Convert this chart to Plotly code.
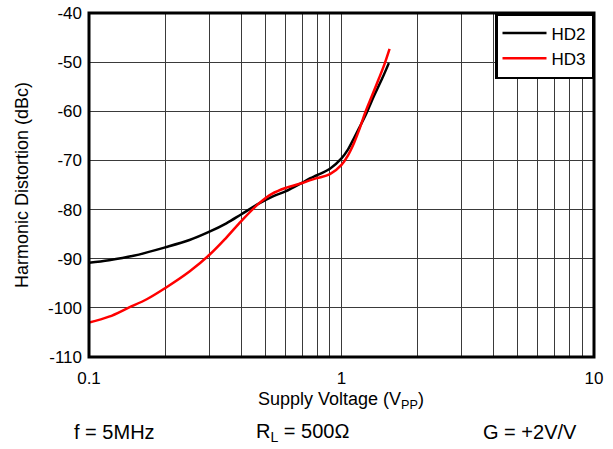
import plotly.graph_objects as go

# Harmonic distortion vs supply voltage (f = 5MHz, RL = 500 ohm, G = +2V/V)
hd2_v = [0.1, 0.12, 0.15, 0.2, 0.25, 0.3, 0.35, 0.4, 0.47, 0.53, 0.6, 0.7,
         0.753, 0.8, 0.9, 1.0, 1.06, 1.12, 1.18, 1.245, 1.3, 1.35, 1.45, 1.54]
hd2_db = [-90.8, -90.3, -89.4, -87.7, -86.2, -84.5, -82.8, -81.0, -78.8,
          -77.4, -76.3, -74.5, -73.6, -73.0, -71.7, -69.6, -67.8, -65.5,
          -63.2, -60.8, -58.6, -56.7, -53.3, -50.2]

hd3_v = [0.1, 0.12, 0.143, 0.17, 0.2, 0.25, 0.3, 0.35, 0.4, 0.47, 0.53, 0.6,
         0.7, 0.753, 0.8, 0.9, 1.0, 1.06, 1.12, 1.18, 1.245, 1.324, 1.4,
         1.48, 1.55]
hd3_db = [-103.0, -101.8, -100.0, -98.2, -96.0, -92.6, -89.2, -85.7, -82.4,
          -78.8, -76.8, -75.6, -74.6, -74.0, -73.6, -72.8, -70.9, -69.0,
          -66.5, -63.5, -60.1, -56.7, -53.6, -50.4, -47.3]

x_ticks = [0.1, 1, 10]
x_labels = ["0.1", "1", "10"]
x_minor = [0.2, 0.3, 0.4, 0.5, 0.6, 0.7, 0.8, 0.9,
           2, 3, 4, 5, 6, 7, 8, 9]
y_ticks = [-110, -100, -90, -80, -70, -60, -50, -40]
y_labels = ["-110", "-100", "-90", "-80", "-70", "-60", "-50", "-40"]

font_family = "Liberation Sans, Arial, sans-serif"
grid_col = "#3a3a3a"

fig = go.Figure()
fig.add_trace(go.Scatter(x=hd2_v, y=hd2_db, mode="lines", name="HD2",
                         line=dict(color="black", width=2.5, shape="spline",
                                   smoothing=1.0)))
fig.add_trace(go.Scatter(x=hd3_v, y=hd3_db, mode="lines", name="HD3",
                         line=dict(color="#ff0000", width=2.5, shape="spline",
                                   smoothing=1.0)))

fig.update_layout(
    width=613, height=449,
    margin=dict(l=89, r=19, t=13, b=92, autoexpand=False),
    paper_bgcolor="white", plot_bgcolor="white",
    font=dict(family=font_family, size=17, color="black"),
    showlegend=True,
    legend=dict(x=1, y=1, xanchor="right", yanchor="top",
                bordercolor="black", borderwidth=2.5, bgcolor="white",
                font=dict(size=17), tracegroupgap=0, itemwidth=44,
                traceorder="normal"),
    xaxis=dict(type="log", range=[-1, 1], tickvals=x_ticks, ticktext=x_labels,
               showgrid=True, gridcolor=grid_col, gridwidth=1,
               minor=dict(tickvals=x_minor, showgrid=True, gridcolor=grid_col,
                          gridwidth=1, ticks=""),
               ticks="", showline=False, zeroline=False, automargin=False,
               ticklabelstandoff=9, tickfont=dict(size=17)),
    yaxis=dict(range=[-110, -40], tickvals=y_ticks, ticktext=y_labels,
               showgrid=True, gridcolor=grid_col, gridwidth=1,
               ticks="", showline=False, zeroline=False, automargin=False,
               ticklabelstandoff=6, tickfont=dict(size=17)),
)

# heavy frame around the plotting area
fig.add_shape(type="rect", xref="paper", yref="paper", x0=0, y0=0, x1=1, y1=1,
              line=dict(color="black", width=3), layer="above")

# axis titles
fig.add_annotation(text="Supply Voltage (V<sub>PP</sub>)", xref="paper",
                   yref="paper", x=(341 - 89) / 505, y=-(400 - 357) / 344,
                   xanchor="center", yanchor="middle", showarrow=False,
                   font=dict(size=18))
fig.add_annotation(text="Harmonic Distortion (dBc)", xref="paper",
                   yref="paper", x=-(89 - 22) / 505, y=0.5, textangle=-90,
                   xanchor="center", yanchor="middle", showarrow=False,
                   font=dict(size=18))

# test conditions under the axis title
for txt, xp in [("f = 5MHz", 114), ("R<sub>L</sub> = 500Ω", 302),
                ("G = +2V/V", 530)]:
    fig.add_annotation(text=txt, xref="paper", yref="paper",
                       x=(xp - 89) / 505, y=-(432 - 357) / 344,
                       xanchor="center", yanchor="middle", showarrow=False,
                       font=dict(size=20))

fig.write_html("out.html")
